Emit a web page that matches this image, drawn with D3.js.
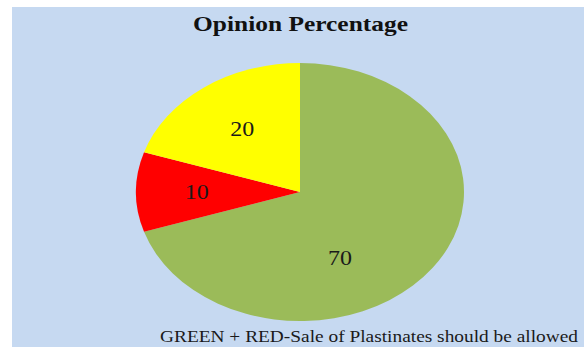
<!DOCTYPE html>
<html>
<head>
<meta charset="utf-8">
<script src="https://cdn.jsdelivr.net/npm/d3@7"></script>
<style>
  html, body { margin: 0; padding: 0; background: #ffffff; }
  svg { display: block; }
</style>
</head>
<body>
<svg id="chart" width="584" height="347"></svg>
<script>
// Opinion shares, drawn clockwise from 12 o'clock
const categories = ["Green", "Red", "Yellow"];
const values = [70, 10, 20];
const sliceColors = ["#9bbb59", "#ff0000", "#ffff00"];
const titleText = "Opinion Percentage";
const noteText = "GREEN + RED-Sale of Plastinates should be allowed";

const W = 584, H = 347;
const svg = d3.select("#chart");
const serif = "Liberation Serif, Times New Roman, serif";

// panel background
svg.append("rect")
  .attr("x", 12).attr("y", 7)
  .attr("width", W - 12).attr("height", H - 7)
  .attr("fill", "#c6d9f1");

svg.append("text")
  .attr("x", 193).attr("y", 31)
  .attr("textLength", 215)
  .attr("lengthAdjust", "spacingAndGlyphs")
  .attr("font-family", serif)
  .attr("font-weight", "bold")
  .attr("font-size", 21)
  .attr("fill", "#111")
  .text(titleText);

// elliptical pie: unit circle scaled horizontally / vertically
const cx = 300, cy = 192, rx = 164, ry = 129;
const data = categories.map((c, i) => ({ name: c, value: values[i], color: sliceColors[i] }));
const pie = d3.pie().sort(null).value(d => d.value);
const arcs = pie(data);
const arc = d3.arc().innerRadius(0).outerRadius(1);

const g = svg.append("g")
  .attr("transform", `translate(${cx},${cy}) scale(${rx},${ry})`);
g.selectAll("path")
  .data(arcs)
  .join("path")
  .attr("d", arc)
  .attr("fill", d => d.data.color);

// value labels; the large slice's label sits nearer the bottom
const labelAngleShift = { Green: 0.5, Red: 0, Yellow: 0 };
const labelRadius = { Green: 0.57, Red: 0.63, Yellow: 0.6 };
svg.selectAll("text.val")
  .data(arcs)
  .join("text")
  .attr("class", "val")
  .attr("transform", d => {
    const a = (d.startAngle + d.endAngle) / 2 + labelAngleShift[d.data.name];
    const r = labelRadius[d.data.name];
    const x = cx + Math.sin(a) * r * rx;
    const y = cy - Math.cos(a) * r * ry + 7;
    return `translate(${x},${y}) scale(1.2,1)`;
  })
  .attr("text-anchor", "middle")
  .attr("font-family", serif)
  .attr("font-size", 20)
  .attr("fill", "#1a1a1a")
  .text(d => d.data.value);

svg.append("text")
  .attr("x", 160).attr("y", 342)
  .attr("textLength", 418)
  .attr("lengthAdjust", "spacingAndGlyphs")
  .attr("font-family", serif)
  .attr("font-size", 17)
  .attr("fill", "#1a1a1a")
  .text(noteText);
</script>
</body>
</html>
